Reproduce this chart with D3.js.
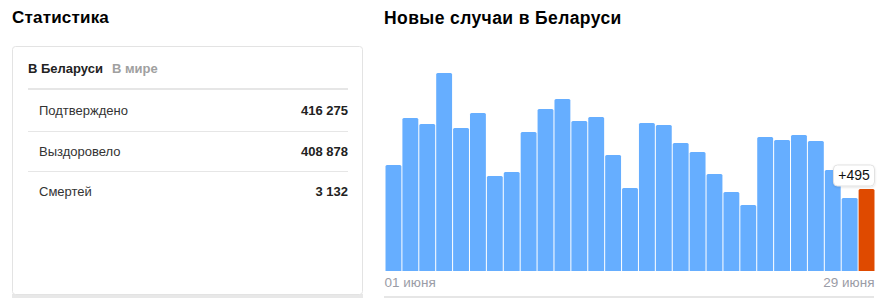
<!DOCTYPE html>
<html>
<head>
<meta charset="utf-8">
<script src="https://cdn.jsdelivr.net/npm/d3@7"></script>
<style>
  html, body { margin: 0; padding: 0; background: #fff; }
  svg { display: block; font-family: "Liberation Sans", Arial, sans-serif; }
</style>
</head>
<body>
<div id="chart"></div>
<script>
// Stats card
const tabs = ['В Беларуси', 'В мире'];
const statLabels = ['Подтверждено', 'Выздоровело', 'Смертей'];
const statValues = ['416 275', '408 878', '3 132'];

// New cases per day, June
const days = [1, 2, 3, 4, 5, 6, 7, 8, 9, 10, 11, 12, 13, 14, 15, 16, 17, 18, 19, 20, 21, 22, 23, 24, 25, 26, 27, 28, 29];
const newCases = [640, 924, 887, 1195, 863, 954, 573, 598, 839, 978, 1038, 906, 930, 700, 501,
                  893, 881, 773, 718, 586, 477, 398, 809, 791, 821, 785, 610, 441, 495];
const tickLabels = ['01 июня', '29 июня'];

const width = 895, height = 298;

const svg = d3.select('#chart').append('svg')
  .attr('width', width)
  .attr('height', height);

// ---- left panel ----
svg.append('text')
  .attr('x', 12).attr('y', 23)
  .attr('font-size', 17).attr('font-weight', 'bold').attr('fill', '#000')
  .attr('letter-spacing', 0.2)
  .text('Статистика');

// gray strip under the card
svg.append('rect')
  .attr('x', 12).attr('y', 294).attr('width', 351).attr('height', 4)
  .attr('fill', '#e8e8e8');

svg.append('rect')
  .attr('x', 12.5).attr('y', 46.5).attr('width', 350).attr('height', 248)
  .attr('rx', 3)
  .attr('fill', '#fff').attr('stroke', '#e3e3e3');

const tabX = [28, 112];
svg.selectAll('.tab')
  .data(tabs)
  .enter().append('text')
  .attr('class', 'tab')
  .attr('x', (d, i) => tabX[i]).attr('y', 73)
  .attr('font-size', 13).attr('font-weight', 'bold')
  .attr('fill', (d, i) => i === 0 ? '#222' : '#a0a0a0')
  .text(d => d);

svg.append('rect')
  .attr('x', 28).attr('y', 88).attr('width', 320).attr('height', 2)
  .attr('fill', '#e6e6e6');

const rowY = d3.scaleLinear().domain([0, 1]).range([115, 155.5]);

svg.selectAll('.stat-label')
  .data(statLabels)
  .enter().append('text')
  .attr('class', 'stat-label')
  .attr('x', 39).attr('y', (d, i) => rowY(i))
  .attr('font-size', 13).attr('fill', '#333')
  .text(d => d);

svg.selectAll('.stat-value')
  .data(statValues)
  .enter().append('text')
  .attr('class', 'stat-value')
  .attr('x', 348).attr('y', (d, i) => rowY(i))
  .attr('text-anchor', 'end')
  .attr('font-size', 13).attr('font-weight', 'bold').attr('fill', '#222')
  .text(d => d);

svg.selectAll('.stat-sep')
  .data(statLabels.slice(0, -1))
  .enter().append('rect')
  .attr('class', 'stat-sep')
  .attr('x', 28).attr('y', (d, i) => Math.round(rowY(i) + 15.5))
  .attr('width', 320).attr('height', 1)
  .attr('fill', '#e6e6e6');

// ---- right panel: new cases ----
svg.append('text')
  .attr('x', 384).attr('y', 24)
  .attr('font-size', 17.5).attr('font-weight', 'bold').attr('fill', '#000')
  .attr('letter-spacing', 0.4)
  .text('Новые случаи в Беларуси');

const x = d3.scaleBand()
  .domain(days)
  .range([385, 875])
  .paddingInner(0.06)
  .paddingOuter(0.03);

const y = d3.scaleLinear()
  .domain([0, d3.max(newCases)])
  .range([271, 73]);

function topRounded(x0, y0, w, h, r) {
  r = Math.min(r, h, w / 2);
  return `M${x0},${y0 + h}V${y0 + r}Q${x0},${y0} ${x0 + r},${y0}H${x0 + w - r}Q${x0 + w},${y0} ${x0 + w},${y0 + r}V${y0 + h}Z`;
}

const lastDay = days[days.length - 1];

svg.append('g')
  .selectAll('path')
  .data(days.map((d, i) => ({ day: d, value: newCases[i] })))
  .enter().append('path')
  .attr('d', d => topRounded(x(d.day), y(d.value), x.bandwidth(), y(0) - y(d.value), 1.5))
  .attr('fill', d => d.day === lastDay ? '#df4a00' : '#66aeff');

// tick labels
svg.append('text')
  .attr('x', x(days[0]) - 1).attr('y', 287)
  .attr('font-size', 13.5).attr('fill', '#9a9ca6')
  .text(tickLabels[0]);

svg.append('text')
  .attr('x', x(lastDay) + x.bandwidth()).attr('y', 287)
  .attr('text-anchor', 'end')
  .attr('font-size', 13.5).attr('fill', '#9a9ca6')
  .text(tickLabels[1]);

svg.append('rect')
  .attr('x', 384).attr('y', 296).attr('width', 490).attr('height', 2)
  .attr('fill', '#e6e6e6');

// tooltip on last bar
const lastVal = newCases[newCases.length - 1];
const tipCx = x(lastDay) + x.bandwidth() - 20.5;
const tipBottom = y(lastVal) - 3;

const defs = svg.append('defs');
const f = defs.append('filter').attr('id', 'tipShadow')
  .attr('x', '-20%').attr('y', '-30%').attr('width', '140%').attr('height', '160%');
f.append('feDropShadow').attr('dx', 0).attr('dy', 1).attr('stdDeviation', 1)
  .attr('flood-color', '#000').attr('flood-opacity', 0.12);

svg.append('rect')
  .attr('x', tipCx - 20.5).attr('y', tipBottom - 21)
  .attr('width', 41).attr('height', 21)
  .attr('rx', 4)
  .attr('fill', '#fff').attr('stroke', '#e2e2e2')
  .attr('filter', 'url(#tipShadow)');

svg.append('text')
  .attr('x', tipCx).attr('y', tipBottom - 6)
  .attr('text-anchor', 'middle')
  .attr('font-size', 14).attr('fill', '#111')
  .text('+' + lastVal);
</script>
</body>
</html>
